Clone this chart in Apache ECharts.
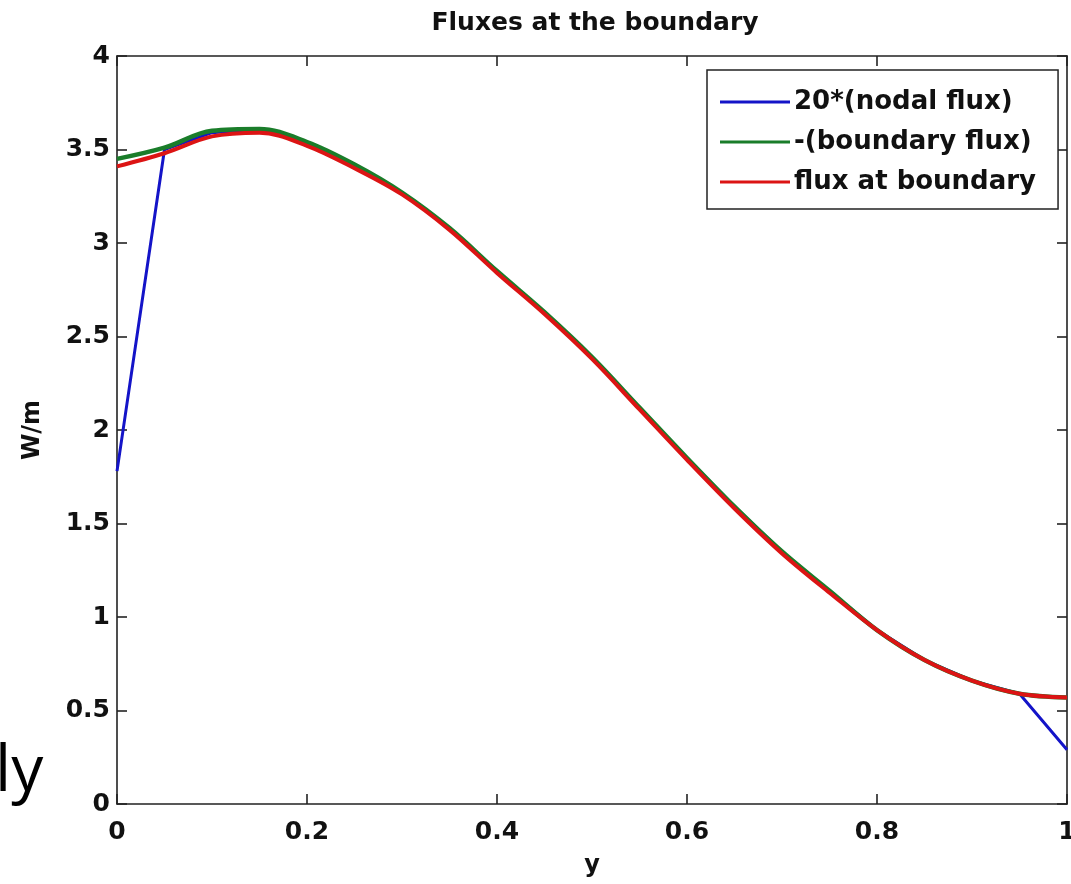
<!DOCTYPE html>
<html>
<head>
<meta charset="utf-8">
<script src="https://cdn.jsdelivr.net/npm/echarts@6/dist/echarts.min.js"></script>
<style>
html,body{margin:0;padding:0;background:#fff;}
#chart{width:1071px;height:884px;}
</style>
</head>
<body>
<div id="chart"></div>
<script>
// Node positions (y coordinate along the boundary)
const yNodes = [0, 0.05, 0.10, 0.15, 0.20, 0.25, 0.30, 0.35, 0.40, 0.45, 0.50,
                0.55, 0.60, 0.65, 0.70, 0.75, 0.80, 0.85, 0.90, 0.95, 1.00];
// 20*(nodal flux)
const nodalFlux = [1.78, 3.50, 3.59, 3.61, 3.54, 3.42, 3.27, 3.08, 2.85, 2.63, 2.39,
                   2.12, 1.85, 1.59, 1.35, 1.14, 0.93, 0.77, 0.66, 0.59, 0.29];
// -(boundary flux)
const boundaryFlux = [3.45, 3.51, 3.60, 3.61, 3.54, 3.42, 3.27, 3.08, 2.85, 2.63, 2.39,
                      2.12, 1.85, 1.59, 1.35, 1.14, 0.93, 0.77, 0.66, 0.59, 0.57];
// flux at boundary
const fluxAtBoundary = [3.41, 3.48, 3.57, 3.59, 3.52, 3.40, 3.26, 3.07, 2.84, 2.62, 2.38,
                        2.11, 1.84, 1.58, 1.34, 1.13, 0.93, 0.77, 0.66, 0.59, 0.57];
const seriesNames = ['20*(nodal flux)', '-(boundary flux)', 'flux at boundary'];

function pairs(xs, ys) { return xs.map((x, i) => [x, ys[i]]); }

const FONT = '"DejaVu Sans", sans-serif';
const axisLineStyle = { color: '#222', width: 1.6 };

const chart = echarts.init(document.getElementById('chart'), null, { renderer: 'canvas' });
chart.setOption({
  animation: false,
  backgroundColor: '#fff',
  title: {
    text: 'Fluxes at the boundary',
    left: 590, textAlign: 'center', top: 6,
    textStyle: { fontFamily: FONT, fontWeight: 'bold', fontSize: 25, color: '#111' }
  },
  grid: { left: 117, right: 4, top: 56, bottom: 80, containLabel: false, outerBoundsMode: 'none' },
  legend: {
    orient: 'vertical',
    left: 707, top: 70,
    padding: [19, 22, 14, 13],
    itemGap: 14,
    itemWidth: 70, itemHeight: 3,
    icon: 'rect',
    backgroundColor: '#fff',
    borderColor: '#222', borderWidth: 1.5,
    textStyle: { fontFamily: FONT, fontWeight: 'bold', fontSize: 26, color: '#111', padding: [0,0,0,-1] },
    data: seriesNames
  },
  xAxis: [{
    type: 'value', min: 0, max: 1, interval: 0.2,
    name: 'y', nameLocation: 'middle', nameGap: 50,
    nameTextStyle: { fontFamily: FONT, fontWeight: 'bold', fontSize: 24, color: '#111' },
    axisLine: { show: true, onZero: false, lineStyle: axisLineStyle },
    axisTick: { show: true, inside: true, length: 10, lineStyle: axisLineStyle },
    axisLabel: { margin: 16, fontFamily: FONT, fontWeight: 'bold', fontSize: 25, color: '#111' },
    splitLine: { show: false }
  }, {
    type: 'value', min: 0, max: 1, interval: 0.2, position: 'top',
    axisLine: { show: true, onZero: false, lineStyle: axisLineStyle },
    axisTick: { show: true, inside: true, length: 10, lineStyle: axisLineStyle },
    axisLabel: { show: false },
    splitLine: { show: false }
  }],
  yAxis: [{
    type: 'value', min: 0, max: 4, interval: 0.5,
    name: 'W/m', nameLocation: 'middle', nameGap: 72, nameRotate: 90,
    nameTextStyle: { fontFamily: FONT, fontWeight: 'bold', fontSize: 24, color: '#111' },
    axisLine: { show: true, onZero: false, lineStyle: axisLineStyle },
    axisTick: { show: true, inside: true, length: 10, lineStyle: axisLineStyle },
    axisLabel: { margin: 7, fontFamily: FONT, fontWeight: 'bold', fontSize: 25, color: '#111' },
    splitLine: { show: false }
  }, {
    type: 'value', min: 0, max: 4, interval: 0.5, position: 'right',
    axisLine: { show: true, onZero: false, lineStyle: axisLineStyle },
    axisTick: { show: true, inside: true, length: 10, lineStyle: axisLineStyle },
    axisLabel: { show: false },
    splitLine: { show: false }
  }],
  graphic: [{
    type: 'text', left: -5, top: 741, silent: true,
    style: { text: 'ly', font: '64px "Open Sans", sans-serif', fill: '#000' }
  }],
  series: [{
    name: seriesNames[0], type: 'line', data: pairs(yNodes, nodalFlux),
    showSymbol: false, smooth: false, color: '#1414c8',
    lineStyle: { width: 3, color: '#1414c8' }
  }, {
    name: seriesNames[1], type: 'line', data: pairs(yNodes, boundaryFlux),
    showSymbol: false, smooth: 0.35, color: '#1a7d2a',
    lineStyle: { width: 4.5, color: '#1a7d2a' }
  }, {
    name: seriesNames[2], type: 'line', data: pairs(yNodes, fluxAtBoundary),
    showSymbol: false, smooth: 0.35, color: '#dc1414',
    lineStyle: { width: 4, color: '#dc1414' }
  }]
});
</script>
</body>
</html>
